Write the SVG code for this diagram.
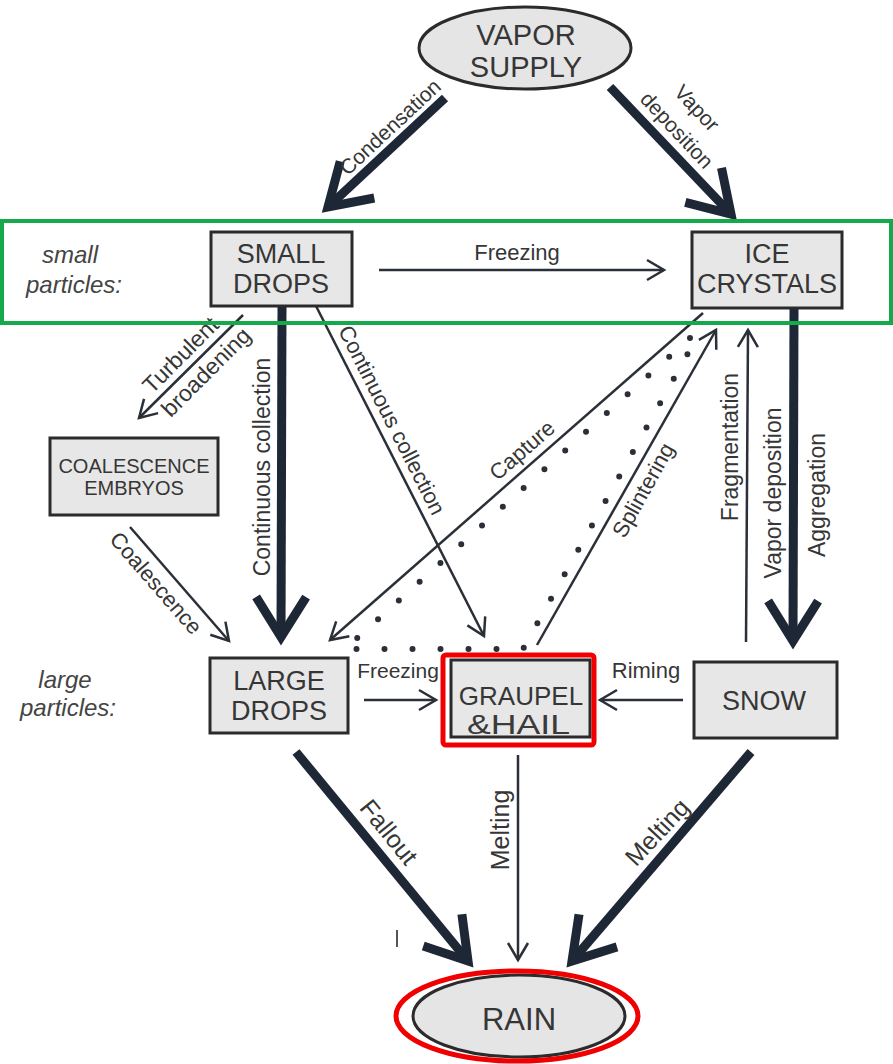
<svg xmlns="http://www.w3.org/2000/svg" width="893" height="1064" viewBox="0 0 893 1064">
<style>
  text { font-family: "Liberation Sans", Arial, sans-serif; fill: #363636; }
  .box { fill: #e7e7e7; stroke: #2b2b2b; stroke-width: 3; }
  .oval { fill: #e5e5e5; stroke: #2b2b2b; stroke-width: 3; }
  .nt { font-size: 27px; text-anchor: middle; }
  .lbl { font-size: 22px; text-anchor: middle; }
  .big { font-size: 25px; text-anchor: middle; }
  .row { font-size: 24px; font-style: italic; text-anchor: middle; fill: #444; }
  .thick { stroke: #1e2735; stroke-width: 9; fill: none; marker-end: url(#headThick); }
  .thin { stroke: #2a2f38; stroke-width: 2.5; fill: none; marker-end: url(#headThin); }
  .dots { stroke: #2a2f38; stroke-width: 6; stroke-linecap: round; stroke-dasharray: 0 28; fill: none; }
</style>
<defs>
  <marker id="headThick" markerUnits="userSpaceOnUse" viewBox="-60 -40 80 80" markerWidth="80" markerHeight="80" refX="0" refY="0" orient="auto" overflow="visible">
    <path d="M -40 -25 L 0 0 L -40 25" fill="none" stroke="#1e2735" stroke-width="9"/>
  </marker>
  <marker id="headThin" markerUnits="userSpaceOnUse" viewBox="-30 -20 40 40" markerWidth="40" markerHeight="40" refX="0" refY="0" orient="auto" overflow="visible">
    <path d="M -17 -10 L 0 0 L -17 10" fill="none" stroke="#2a2f38" stroke-width="2.5"/>
  </marker>
</defs>
<rect width="893" height="1064" fill="#ffffff"/>

<g id="connectors">
  <line class="thick" x1="445" y1="98" x2="328" y2="207"/>
  <line class="thick" x1="610" y1="87" x2="731" y2="214"/>
  <line class="thin" x1="379" y1="270" x2="664" y2="270"/>
  <line class="thin" x1="243" y1="315" x2="139" y2="418"/>
  <line class="thin" x1="130" y1="527" x2="229" y2="641"/>
  <line class="thick" x1="282" y1="306" x2="281" y2="637"/>
  <line class="thin" x1="316" y1="306" x2="484" y2="636"/>
  <line class="thin" x1="703" y1="313" x2="330" y2="640"/>
  <line class="thin" x1="537" y1="645" x2="716" y2="330"/>
  <path class="dots" d="M 690 338 L 345 649 L 523 649 L 692 346"/>
  <line class="thin" x1="746" y1="642" x2="748" y2="330"/>
  <line class="thick" x1="794" y1="308" x2="793" y2="641"/>
  <line class="thin" x1="364" y1="700" x2="436" y2="700"/>
  <line class="thin" x1="683" y1="700" x2="600" y2="700"/>
  <line class="thick" x1="296" y1="752" x2="468" y2="961"/>
  <line class="thin" x1="518" y1="755" x2="518" y2="960"/>
  <line class="thick" x1="751" y1="752" x2="572" y2="961"/>
  <line x1="397" y1="930" x2="397" y2="947" stroke="#555" stroke-width="2"/>

  <text class="lbl" transform="translate(390,127) rotate(-43)" dy="0.35em" style="font-size:21px">Condensation</text>
  <text class="lbl" transform="translate(697,108) rotate(47)" dy="0.35em" style="font-size:21px">Vapor</text>
  <text class="lbl" transform="translate(677,130) rotate(47)" dy="0.35em" style="font-size:21px">deposition</text>
  <text class="lbl" x="517" y="260">Freezing</text>
  <g transform="translate(196,362) rotate(-45)">
    <text class="lbl" x="-6" y="-8" style="font-size:23px">Turbulent</text>
    <text class="lbl" x="0" y="22" style="font-size:23px">broadening</text>
  </g>
  <text class="lbl" transform="translate(156,583) rotate(49)" dy="0.35em">Coalescence</text>
  <text class="lbl" transform="translate(262,467) rotate(-90)" dy="0.35em" style="font-size:23px">Continuous collection</text>
  <text class="lbl" transform="translate(392,420) rotate(63)" dy="0.35em">Continuous collection</text>
  <text class="lbl" transform="translate(522,450) rotate(-41)" dy="0.35em">Capture</text>
  <text class="lbl" transform="translate(643,490) rotate(-61)" dy="0.35em">Splintering</text>
  <text class="lbl" transform="translate(730,447) rotate(-90)" dy="0.35em" style="font-size:23px">Fragmentation</text>
  <text class="lbl" transform="translate(773,493) rotate(-90)" dy="0.35em" style="font-size:23px">Vapor deposition</text>
  <text class="lbl" transform="translate(817,495) rotate(-90)" dy="0.35em" style="font-size:23px">Aggregation</text>
  <text class="lbl" x="398" y="678" style="font-size:21px">Freezing</text>
  <text class="lbl" x="646" y="678">Riming</text>
  <text class="big" transform="translate(389,832) rotate(51)" dy="0.35em">Fallout</text>
  <text class="big" transform="translate(500,830) rotate(-90)" dy="0.35em">Melting</text>
  <text class="big" transform="translate(657,832) rotate(-47)" dy="0.35em">Melting</text>
</g>

<g id="row-labels">
  <text class="row" x="70" y="263">small</text>
  <text class="row" x="74" y="293">particles:</text>
  <text class="row" x="65" y="688">large</text>
  <text class="row" x="68" y="716">particles:</text>
</g>

<g id="vapor-supply">
  <ellipse class="oval" cx="525" cy="48" rx="106" ry="41"/>
  <text class="nt" x="526" y="45" style="font-size:29px">VAPOR</text>
  <text class="nt" x="526" y="77" style="font-size:29px">SUPPLY</text>
</g>
<g id="small-drops">
  <rect class="box" x="211" y="232" width="141" height="74"/>
  <text class="nt" x="281" y="263">SMALL</text>
  <text class="nt" x="281" y="293">DROPS</text>
</g>
<g id="ice-crystals">
  <rect class="box" x="692" y="232" width="150" height="76"/>
  <text class="nt" x="767" y="263">ICE</text>
  <text class="nt" x="767" y="293">CRYSTALS</text>
</g>
<g id="coalescence-embryos">
  <rect class="box" x="50" y="438" width="168" height="77"/>
  <text class="nt" x="134" y="473" style="font-size:20px">COALESCENCE</text>
  <text class="nt" x="134" y="495" style="font-size:20px">EMBRYOS</text>
</g>
<g id="large-drops">
  <rect class="box" x="210" y="658" width="138" height="75"/>
  <text class="nt" x="279" y="690">LARGE</text>
  <text class="nt" x="279" y="720">DROPS</text>
</g>
<g id="graupel-hail">
  <rect class="box" x="451" y="660" width="139" height="77"/>
  <text class="nt" x="521" y="705" style="font-size:26px">GRAUPEL</text>
  <text x="467" y="734" textLength="103" lengthAdjust="spacingAndGlyphs" style="font-size:28px;fill:#3a3a3a">&amp;HAIL</text>
  <rect x="443" y="655" width="151" height="90" rx="3" fill="none" stroke="#f00000" stroke-width="5"/>
</g>
<g id="snow">
  <rect class="box" x="694" y="662" width="143" height="76"/>
  <text class="nt" x="764" y="710">SNOW</text>
</g>
<g id="rain">
  <ellipse class="oval" cx="519" cy="1016" rx="106" ry="41"/>
  <text class="nt" x="519" y="1030" style="font-size:31px">RAIN</text>
  <ellipse cx="517" cy="1016" rx="121" ry="45" fill="none" stroke="#f00000" stroke-width="5"/>
</g>

<g id="highlight">
  <rect x="2" y="221" width="889" height="102" fill="none" stroke="#14a94a" stroke-width="4"/>
</g>
</svg>
